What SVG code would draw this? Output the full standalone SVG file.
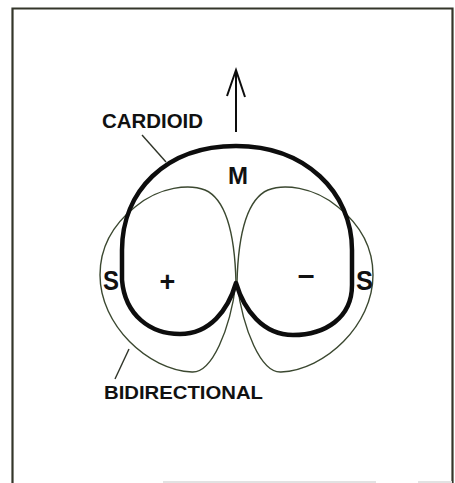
<svg xmlns="http://www.w3.org/2000/svg" width="455" height="483" viewBox="0 0 455 483">
<defs>
<style>
.frame{fill:none;stroke:#34362a;stroke-width:2.2}
.faint{fill:none;stroke:#e2e2e2;stroke-width:2}
.card{fill:none;stroke:#0d0d0d;stroke-width:4.5;stroke-linejoin:round}
.bidi{fill:none;stroke:#3b4830;stroke-width:1.4}
.lead{fill:none;stroke:#2f3428;stroke-width:1.4}
.arrow{fill:none;stroke:#0d0d0d;stroke-width:2}
.lbl{font-family:"Liberation Sans",Arial,sans-serif;font-weight:bold;fill:#111}
.s{font-family:"Liberation Sans",Arial,sans-serif;font-weight:bold;fill:#111}
</style>
</defs>
<rect width="455" height="483" fill="#ffffff"/>
<g id="frame">
<path class="frame" d="M12.5,483 L12.5,8.5 L452.5,8.5 L452.5,483"/>
<path class="faint" d="M163,482 L376,482 M418,482 L452,482"/>
</g>
<g id="bidirectional">
<path class="bidi" d="M236,283 C235,240 228,200 205,190 C190,184 160,186 135,207 C115,223 100,245 100,275 C100,325 148,370 192,372 C212,373 230,330 236,283 Z"/>
<path class="bidi" d="M237,283 C238,240 245,200 268,190 C283,184 313,186 338,207 C358,223 373,245 373,275 C373,325 325,370 281,372 C261,373 243,330 237,283 Z"/>
</g>
<g id="cardioid">
<path class="card" d="M236,283 C228,310 210,334 180,334 C150,334 125,315 122,280 L122,250 C122,192 165,146 236,146 C305,146 352,192 352,250 L352,285 C352,318 325,335 293,335 C263,335 244,310 236,283 Z"/>
</g>
<g id="connectors">
<path class="lead" d="M142,135 L166,162"/>
<path class="lead" d="M129,349 L115,379"/>
<path class="arrow" d="M236,132 L236,71 M227,96 L236,70 L245,97"/>
</g>
<g id="label-cardioid"><text class="lbl" x="102" y="128" font-size="19.5" textLength="101" lengthAdjust="spacingAndGlyphs">CARDIOID</text></g>
<g id="label-m"><text class="lbl" x="228" y="184" font-size="24" textLength="20" lengthAdjust="spacingAndGlyphs">M</text></g>
<g id="label-s-left"><text class="s" x="103" y="290" font-size="28" textLength="16" lengthAdjust="spacingAndGlyphs">S</text></g>
<g id="label-s-right"><text class="s" x="356" y="290" font-size="28" textLength="17" lengthAdjust="spacingAndGlyphs">S</text></g>
<g id="label-plus"><text class="lbl" x="167.5" y="291" font-size="27" text-anchor="middle">+</text></g>
<g id="label-minus"><text class="s" x="306" y="285" font-size="30" font-weight="normal" text-anchor="middle">–</text></g>
<g id="label-bidirectional"><text class="lbl" x="104" y="399" font-size="19" textLength="159" lengthAdjust="spacingAndGlyphs">BIDIRECTIONAL</text></g>
</svg>
